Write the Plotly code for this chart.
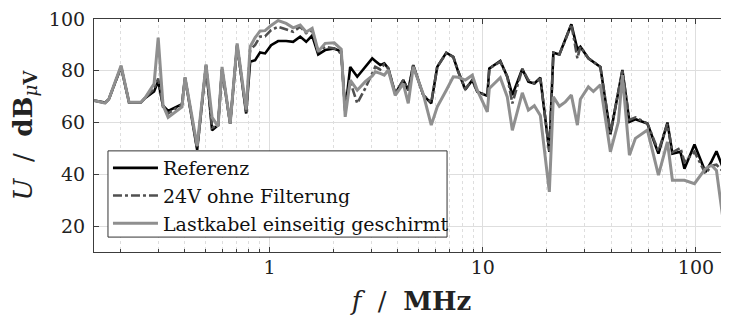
import plotly.graph_objects as go

# Frequencies (MHz) shared by all three measurements
freq_mhz = [0.150, 0.169, 0.176, 0.201, 0.219, 0.249, 0.260, 0.287, 0.300, 0.316,
            0.334, 0.388, 0.401, 0.457, 0.503, 0.537, 0.573, 0.598, 0.653, 0.704,
            0.776, 0.810, 0.855, 0.902, 0.952, 1.016, 1.096, 1.195, 1.289, 1.391,
            1.484, 1.583, 1.690, 1.822, 2.009, 2.167, 2.262, 2.388, 2.576, 2.808,
            3.029, 3.129, 3.303, 3.449, 3.601, 3.883, 4.235, 4.470, 4.718, 5.256,
            5.731, 6.114, 6.741, 7.269, 7.674, 8.279, 8.927, 9.423, 10.50, 10.73,
            12.08, 13.03, 13.76, 15.32, 16.36, 17.45, 18.62, 20.52, 21.43, 22.87,
            24.40, 26.03, 27.78, 28.69, 31.28, 33.03, 35.61, 39.68, 43.27, 45.18,
            48.73, 52.00, 59.20, 66.68, 73.48, 77.55, 84.56, 88.31, 98.4, 110.8,
            118.3, 124.8, 136.1, 142.1, 153.2]

referenz = [68.5, 67.7, 69.0, 81.5, 67.8, 67.8, 69.4, 72.0, 76.0, 66.5,
            64.5, 67.1, 77.3, 49.5, 82.0, 57.0, 59.0, 80.5, 59.6, 90.0,
            63.5, 83.5, 84.1, 87.1, 86.7, 89.9, 91.5, 91.5, 91.2, 93.2,
            91.2, 93.6, 86.3, 88.0, 88.6, 87.4, 64.5, 81.5, 77.7, 81.3,
            84.8, 83.8, 82.2, 82.9, 80.9, 71.2, 76.4, 72.5, 82.2, 70.6,
            67.4, 81.5, 87.0, 85.4, 79.6, 72.8, 76.4, 71.9, 70.3, 80.9,
            83.8, 77.7, 70.6, 80.7, 75.8, 75.1, 77.3, 48.7, 87.0, 86.3,
            91.9, 98.0, 88.3, 89.3, 84.8, 83.5, 81.5, 55.5, 71.9, 80.3,
            60.3, 61.3, 59.6, 48.0, 60.0, 48.0, 48.7, 42.2, 51.5, 40.9,
            45.0, 48.9, 41.0, 35.5, 36.0]

ohne_filter = [68.5, 67.5, 69.0, 81.5, 67.8, 67.8, 69.4, 73.0, 77.0, 66.0,
               63.5, 67.0, 77.0, 50.0, 82.0, 58.0, 59.0, 80.5, 59.6, 90.0,
               64.0, 88.0, 90.0, 93.2, 93.3, 95.7, 97.0, 96.0, 95.1, 97.0,
               94.5, 95.7, 87.4, 89.3, 88.6, 86.7, 64.8, 75.8, 67.4, 73.2,
               79.0, 81.5, 80.5, 82.5, 81.0, 71.2, 76.4, 72.5, 82.2, 70.6,
               67.8, 81.5, 86.8, 85.4, 79.6, 73.0, 76.4, 72.0, 70.3, 80.9,
               83.5, 77.7, 67.4, 80.7, 76.4, 75.1, 77.0, 49.0, 87.0, 86.3,
               91.9, 98.0, 84.8, 89.3, 84.8, 83.5, 81.5, 56.0, 71.5, 80.0,
               61.0, 62.0, 59.6, 49.0, 59.5, 48.5, 50.2, 44.8, 48.7, 40.3,
               43.3, 43.7, 40.5, 35.1, 36.0]

lastkabel = [68.5, 67.5, 69.0, 82.0, 67.8, 67.8, 69.5, 75.0, 92.8, 66.7,
             62.0, 66.0, 77.5, 51.0, 82.5, 62.0, 58.5, 81.5, 59.6, 90.6,
             65.0, 89.3, 92.8, 95.4, 95.5, 97.5, 99.4, 98.3, 96.6, 97.7,
             95.0, 96.4, 87.5, 90.6, 90.8, 88.3, 62.2, 76.4, 72.5, 75.8,
             78.0, 79.6, 79.0, 78.3, 80.3, 70.5, 75.0, 67.4, 81.5, 71.0,
             59.0, 66.1, 72.5, 77.7, 77.5, 76.4, 78.3, 72.5, 64.1, 73.2,
             77.3, 69.9, 57.0, 71.5, 64.8, 66.5, 62.7, 33.2, 69.9, 66.3,
             68.0, 70.6, 59.0, 69.0, 73.8, 72.0, 74.6, 48.7, 60.3, 78.3,
             47.4, 53.9, 57.1, 39.7, 52.5, 37.7, 37.7, 37.7, 36.4, 42.2,
             43.5, 41.5, 18.4, 24.2, 30.0]

series_names = ["Referenz", "24V ohne Filterung", "Lastkabel einseitig geschirmt"]

x_major_ticks = [1, 10, 100]
x_major_labels = ["1", "10", "100"]
x_minor_ticks = [0.2, 0.3, 0.4, 0.5, 0.6, 0.7, 0.8, 0.9,
                 2, 3, 4, 5, 6, 7, 8, 9,
                 20, 30, 40, 50, 60, 70, 80, 90]
y_ticks = [20, 40, 60, 80, 100]

SERIF = "DejaVu Serif, serif"
AXIS_COLOR = "#3c3c3c"
GRID_COLOR = "#dedede"
TEXT_COLOR = "#222222"

fig = go.Figure()
fig.add_trace(go.Scatter(x=freq_mhz, y=referenz, mode="lines", name=series_names[0],
                         line=dict(color="#000000", width=2.6)))
fig.add_trace(go.Scatter(x=freq_mhz, y=ohne_filter, mode="lines", name=series_names[1],
                         line=dict(color="#505050", width=2.6, dash="dashdot")))
fig.add_trace(go.Scatter(x=freq_mhz, y=lastkabel, mode="lines", name=series_names[2],
                         line=dict(color="#8f8f8f", width=3)))

# legend frame (layout decoration, paper coordinates of the plot area)
legend_box = dict(x0=0.022, x1=0.556, y0=0.064, y1=0.434)

fig.add_shape(type="rect", xref="paper", yref="paper",
              x0=legend_box["x0"], x1=legend_box["x1"],
              y0=legend_box["y0"], y1=legend_box["y1"],
              fillcolor="white", line=dict(color="#333333", width=1), layer="above")

# page body adds an 8px offset; figure is sized so the plot lands where the reference has it
fig.update_layout(
    width=721, height=314,
    margin=dict(l=86, r=0, t=11, b=70, autoexpand=False),
    paper_bgcolor="white", plot_bgcolor="white",
    font=dict(family=SERIF, size=19, color=TEXT_COLOR),
    showlegend=True,
    legend=dict(
        x=legend_box["x0"], y=legend_box["y1"] + 0.008, xanchor="left", yanchor="top",
        bgcolor="rgba(0,0,0,0)", borderwidth=0,
        font=dict(family=SERIF, size=19, color="#111111"),
        itemwidth=45, tracegroupgap=0,
    ),
)

fig.update_xaxes(
    type="log", automargin=True,
    range=[-0.824, 2.155],
    tickmode="array", tickvals=x_major_ticks, ticktext=x_major_labels,
    ticks="inside", ticklen=5, tickcolor=AXIS_COLOR,
    showgrid=True, gridcolor=GRID_COLOR, gridwidth=1,
    showline=True, linecolor=AXIS_COLOR, linewidth=1.2, mirror="allticks",
    minor=dict(tickmode="array", tickvals=x_minor_ticks, ticks="inside", ticklen=3,
               tickcolor=AXIS_COLOR, showgrid=True, gridcolor=GRID_COLOR,
               griddash="dot", gridwidth=1),
    tickfont=dict(family=SERIF, size=19, color=TEXT_COLOR),
    ticklabeloverflow="allow", ticklabelstandoff=-2,
    title=dict(text="<i>f</i>  /  <b>MHz</b>", standoff=14,
               font=dict(family=SERIF, size=26, color=TEXT_COLOR)),
    zeroline=False,
)

fig.update_yaxes(
    automargin=False,
    range=[10, 100],
    tickmode="array", tickvals=y_ticks,
    ticks="inside", ticklen=5, tickcolor=AXIS_COLOR,
    showgrid=True, gridcolor=GRID_COLOR, gridwidth=1,
    showline=True, linecolor=AXIS_COLOR, linewidth=1.2,
    tickfont=dict(family=SERIF, size=19, color=TEXT_COLOR),
    ticklabeloverflow="allow", ticklabelstandoff=4,
    title=dict(text="<i>U</i>  /  <b>dB</b><sub><i>μ</i><b>V</b></sub>", standoff=10,
               font=dict(family=SERIF, size=26, color=TEXT_COLOR)),
    zeroline=False,
)

fig.write_html("out.html")
